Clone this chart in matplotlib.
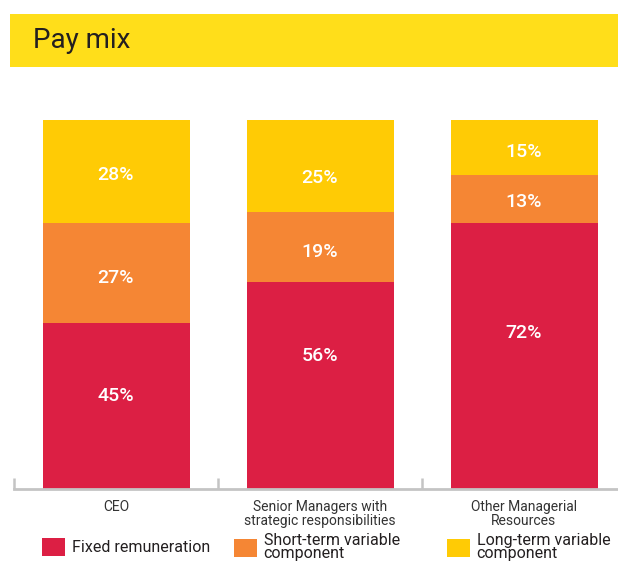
import matplotlib
matplotlib.use('Agg')
import matplotlib.pyplot as plt
from matplotlib.patches import Rectangle

categories = ['CEO', 'Senior Managers with\nstrategic responsibilities', 'Other Managerial\nResources']
fixed = [45, 56, 72]
short_term = [27, 19, 13]
long_term = [28, 25, 15]
series_names = ['Fixed remuneration', 'Short-term variable\ncomponent', 'Long-term variable\ncomponent']

RED = '#DC1F44'
ORANGE = '#F58634'
YELLOW = '#FFCB05'
BANNER = '#FFDE1A'
GREY = '#C4C4C4'

plt.rcParams['font.family'] = ['Roboto', 'DejaVu Sans']

fig = plt.figure(figsize=(6.18, 5.62), dpi=100)

# title banner
fig.patches.append(Rectangle((10/618, 1 - 67/562), 1, 53/562, transform=fig.transFigure,
                             facecolor=BANNER, edgecolor='none'))
fig.text(33/618, 1 - 41/562, 'Pay mix', fontsize=20, color='#231F20', va='center', ha='left')

ax = fig.add_axes([14/618, 73/562, 1 - 14/618, 369/562])
x = range(len(categories))
w = 147/204
b1 = ax.bar(x, fixed, w, color=RED, label=series_names[0])
bottom2 = [a for a in fixed]
b2 = ax.bar(x, short_term, w, bottom=bottom2, color=ORANGE, label=series_names[1])
bottom3 = [a + b for a, b in zip(fixed, short_term)]
b3 = ax.bar(x, long_term, w, bottom=bottom3, color=YELLOW, label=series_names[2])

lab_kw = dict(color='white', fontsize=14, fontweight='medium', ha='center', va='center')
# label heights as placed in the original (not exactly centred)
red_pos = [25.2, 36.0, 42.3]
orange_pos = [57.2, 64.2, 77.8]
yellow_pos = [85.1, 84.3, 91.3]
for i in x:
    ax.text(i, red_pos[i], f'{fixed[i]}%', **lab_kw)
    ax.text(i, orange_pos[i], f'{short_term[i]}%', **lab_kw)
    ax.text(i, yellow_pos[i], f'{long_term[i]}%', **lab_kw)

for s in ['top', 'right', 'left']:
    ax.spines[s].set_visible(False)
ax.spines['bottom'].set_color(GREY)
ax.spines['bottom'].set_linewidth(2)
ax.set_yticks([])
ax.set_xticks([-0.5, 0.5, 1.5])
ax.set_xticklabels([])
ax.tick_params(axis='x', direction='in', length=8, width=1.8, color=GREY)
ax.set_xlim(-0.5, (618 - 14) / 204 - 0.5)
ax.set_ylim(0, 100)
for i, c in enumerate(categories):
    ax.text(i, -3.0, c, ha='center', va='top', fontsize=10, color='#333333',
            linespacing=0.95)

# legend, one entry per block
leg_x = [42/618, 234/618, 447/618]
for h, lx in zip([b1, b2, b3], leg_x):
    lg = fig.legend([h], [h.get_label()], loc='center left', bbox_to_anchor=(lx, 1 - 547/562),
                    frameon=False, fontsize=11.5, handlelength=1.45, handleheight=1.35,
                    handletextpad=0.4, labelspacing=0, borderpad=0, borderaxespad=0)
    for t in lg.get_texts():
        t.set_color('#231F20')
        t.set_linespacing(0.9)

fig.savefig('out.png', dpi=100)
